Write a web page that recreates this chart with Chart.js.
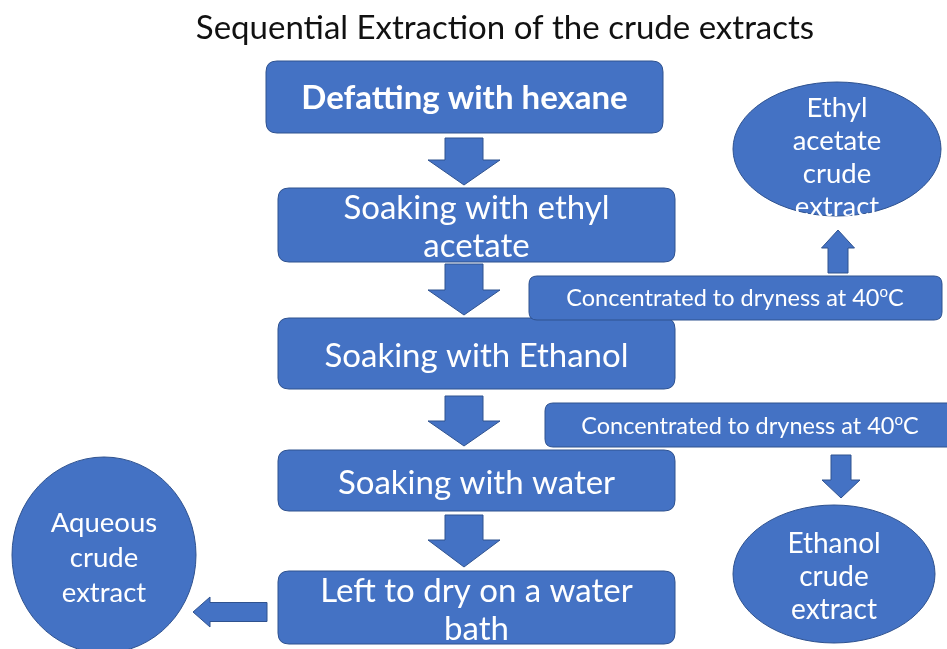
<!DOCTYPE html>
<html>
<head>
<meta charset="utf-8">
<script src="https://cdn.jsdelivr.net/npm/chart.js@4.4.1/dist/chart.umd.min.js"></script>
<style>
  html, body { margin: 0; padding: 0; background: #ffffff; }
  #wrap { width: 947px; height: 649px; }
</style>
</head>
<body>
<div id="wrap"><canvas id="flowChart" width="947" height="649"></canvas></div>
<script>
// Texts of the flow chart
const chartTitle = "Sequential Extraction of the crude extracts";
const stepLabels = [
  "Defatting with hexane",
  "Soaking with ethyl acetate",
  "Soaking with Ethanol",
  "Soaking with water",
  "Left to dry on a water bath",
];
const concentrateLabels = [
  "Concentrated to dryness at 40ºC",
  "Concentrated to dryness at 40ºC",
];
const extractLabels = [
  "Ethyl acetate crude extract",
  "Ethanol crude extract",
  "Aqueous crude extract",
];

// Layout, in scale units (x 0-947, y 0-649 from the top)
const stepBoxes = [
  { x0: 266, y0: 61, x1: 663, y1: 133, size: 33, weight: "bold", ty: 97 },
  { x0: 278, y0: 188, x1: 675, y1: 262, size: 33, weight: "normal", ty: 226 },
  { x0: 278, y0: 318, x1: 675, y1: 389, size: 33, weight: "normal", ty: 355 },
  { x0: 278, y0: 450, x1: 675, y1: 511, size: 33, weight: "normal", ty: 482 },
  { x0: 278, y0: 571, x1: 675, y1: 644, size: 33, weight: "normal", ty: 609 },
];
const concentrateBoxes = [
  { x0: 529, y0: 276, x1: 942, y1: 320, size: 23.5, tx: 735, ty: 298 },
  { x0: 545, y0: 403, x1: 965, y1: 447, size: 23.5, tx: 750, ty: 426 },
];
const extractEllipses = [
  { cx: 837, cy: 149, rx: 104, ry: 67, size: 27.5, lh: 33, ty: 157 },
  { cx: 834, cy: 574, rx: 101, ry: 69, size: 28, lh: 33, ty: 576 },
  { cx: 104, cy: 555, rx: 92, ry: 98, size: 27.5, lh: 35, ty: 557 },
];
// block arrows: tail point, tip point, shaft width, head width, head length
const arrows = [
  { x0: 464, y0: 138, x1: 464, y1: 185, shaft: 38, head: 72, len: 25 },
  { x0: 464, y0: 264, x1: 464, y1: 315, shaft: 38, head: 72, len: 25 },
  { x0: 464, y0: 396, x1: 464, y1: 446, shaft: 38, head: 72, len: 25 },
  { x0: 464, y0: 515, x1: 464, y1: 567, shaft: 38, head: 72, len: 27 },
  { x0: 838, y0: 273, x1: 838, y1: 230, shaft: 20, head: 33, len: 18 },
  { x0: 841, y0: 455, x1: 841, y1: 498, shaft: 20, head: 38, len: 18 },
  { x0: 267, y0: 612, x1: 193, y1: 612, shaft: 19, head: 30, len: 17 },
];

const FILL = "#4472c4";
const EDGE = "#2f528f";
const FONT = "Lato, 'Open Sans', sans-serif";

// Greedy word wrap
function wrapText(ctx, text, maxWidth) {
  const words = text.split(" ");
  const lines = [];
  let line = "";
  words.forEach((w) => {
    const test = line ? line + " " + w : w;
    if (line && ctx.measureText(test).width > maxWidth) {
      lines.push(line);
      line = w;
    } else {
      line = test;
    }
  });
  if (line) lines.push(line);
  return lines;
}

// Draw one line centred at cx; "º" is drawn as a raised small o
function drawRichLine(ctx, text, cx, baseline, size, weight) {
  const parts = text.split("º");
  const normal = `${weight} ${size}px ${FONT}`;
  const small = `${weight} ${Math.round(size * 0.62)}px ${FONT}`;
  let total = 0;
  parts.forEach((p, i) => {
    ctx.font = normal;
    total += ctx.measureText(p).width;
    if (i < parts.length - 1) {
      ctx.font = small;
      total += ctx.measureText("o").width;
    }
  });
  let x = cx - total / 2;
  ctx.textAlign = "left";
  parts.forEach((p, i) => {
    ctx.font = normal;
    ctx.fillText(p, x, baseline);
    x += ctx.measureText(p).width;
    if (i < parts.length - 1) {
      ctx.font = small;
      ctx.fillText("o", x, baseline - size * 0.38);
      x += ctx.measureText("o").width;
    }
  });
}

function drawTextBlock(ctx, lines, cx, cy, size, weight, lineHeight) {
  const n = lines.length;
  lines.forEach((ln, i) => {
    const base = cy + (i - (n - 1) / 2) * lineHeight + size * 0.35;
    drawRichLine(ctx, ln, cx, base, size, weight);
  });
}

function roundRect(ctx, x, y, w, h, r) {
  ctx.beginPath();
  ctx.moveTo(x + r, y);
  ctx.lineTo(x + w - r, y);
  ctx.quadraticCurveTo(x + w, y, x + w, y + r);
  ctx.lineTo(x + w, y + h - r);
  ctx.quadraticCurveTo(x + w, y + h, x + w - r, y + h);
  ctx.lineTo(x + r, y + h);
  ctx.quadraticCurveTo(x, y + h, x, y + h - r);
  ctx.lineTo(x, y + r);
  ctx.quadraticCurveTo(x, y, x + r, y);
  ctx.closePath();
}

const flowPlugin = {
  id: "flowPlugin",
  afterDraw(chart) {
    const ctx = chart.ctx;
    const sx = chart.scales.x;
    const sy = chart.scales.y;
    const px = (v) => sx.getPixelForValue(v);
    const py = (v) => sy.getPixelForValue(v);

    ctx.save();

    // title
    ctx.fillStyle = "#111111";
    ctx.textAlign = "center";
    ctx.textBaseline = "alphabetic";
    ctx.font = `normal 33px ${FONT}`;
    ctx.fillText(chartTitle, px(505), py(39));

    ctx.lineWidth = 1;

    // arrows
    arrows.forEach((a) => {
      const x0 = px(a.x0), y0 = py(a.y0), x1 = px(a.x1), y1 = py(a.y1);
      const dx = x1 - x0, dy = y1 - y0;
      const L = Math.hypot(dx, dy);
      const ux = dx / L, uy = dy / L;
      const nx = -uy, ny = ux;
      const bx = x1 - ux * a.len, by = y1 - uy * a.len;
      const s = a.shaft / 2, h = a.head / 2;
      ctx.beginPath();
      ctx.moveTo(x0 + nx * s, y0 + ny * s);
      ctx.lineTo(bx + nx * s, by + ny * s);
      ctx.lineTo(bx + nx * h, by + ny * h);
      ctx.lineTo(x1, y1);
      ctx.lineTo(bx - nx * h, by - ny * h);
      ctx.lineTo(bx - nx * s, by - ny * s);
      ctx.lineTo(x0 - nx * s, y0 - ny * s);
      ctx.closePath();
      ctx.fillStyle = FILL;
      ctx.fill();
      ctx.strokeStyle = EDGE;
      ctx.stroke();
    });

    // process steps
    stepBoxes.forEach((b, i) => {
      const x = px(b.x0), y = py(b.y0);
      const w = px(b.x1) - x, h = py(b.y1) - y;
      roundRect(ctx, x, y, w, h, 11);
      ctx.fillStyle = FILL;
      ctx.fill();
      ctx.strokeStyle = EDGE;
      ctx.stroke();
      ctx.fillStyle = "#ffffff";
      ctx.font = `${b.weight} ${b.size}px ${FONT}`;
      const lines = wrapText(ctx, stepLabels[i], w - 50);
      drawTextBlock(ctx, lines, x + w / 2, py(b.ty), b.size, b.weight, 38);
    });

    // concentration steps
    concentrateBoxes.forEach((b, i) => {
      const x = px(b.x0), y = py(b.y0);
      const w = px(b.x1) - x, h = py(b.y1) - y;
      roundRect(ctx, x, y, w, h, 8);
      ctx.fillStyle = FILL;
      ctx.fill();
      ctx.strokeStyle = EDGE;
      ctx.stroke();
      ctx.fillStyle = "#ffffff";
      drawTextBlock(ctx, [concentrateLabels[i]], px(b.tx), py(b.ty), b.size, "normal", 24);
    });

    // crude extracts
    extractEllipses.forEach((e, i) => {
      const cx = px(e.cx), cy = py(e.cy);
      const rx = px(e.cx + e.rx) - cx, ry = py(e.cy + e.ry) - cy;
      ctx.beginPath();
      ctx.ellipse(cx, cy, rx, ry, 0, 0, Math.PI * 2);
      ctx.fillStyle = FILL;
      ctx.fill();
      ctx.strokeStyle = EDGE;
      ctx.stroke();
      ctx.fillStyle = "#ffffff";
      ctx.font = `normal ${e.size}px ${FONT}`;
      const lines = wrapText(ctx, extractLabels[i], 100);
      drawTextBlock(ctx, lines, cx, py(e.ty), e.size, "normal", e.lh);
    });

    ctx.restore();
  },
};

function buildChart() {
  const ctx = document.getElementById("flowChart").getContext("2d");
  // node centres as (invisible) points on the chart scales
  const nodes = stepBoxes
    .map((b) => ({ x: (b.x0 + b.x1) / 2, y: (b.y0 + b.y1) / 2 }))
    .concat(extractEllipses.map((e) => ({ x: e.cx, y: e.cy })));

  new Chart(ctx, {
    type: "scatter",
    data: {
      datasets: [{ label: "nodes", data: nodes, pointRadius: 0 }],
    },
    options: {
      responsive: false,
      animation: false,
      layout: { padding: 0 },
      plugins: {
        legend: { display: false },
        tooltip: { enabled: false },
        title: { display: false },
      },
      scales: {
        x: { type: "linear", min: 0, max: 947, display: false },
        y: { type: "linear", min: 0, max: 649, reverse: true, display: false },
      },
    },
    plugins: [flowPlugin],
  });
}

if (document.fonts && document.fonts.load) {
  Promise.all([
    document.fonts.load("33px Lato"),
    document.fonts.load("bold 33px Lato"),
  ]).then(buildChart, buildChart);
} else {
  buildChart();
}
</script>
</body>
</html>
